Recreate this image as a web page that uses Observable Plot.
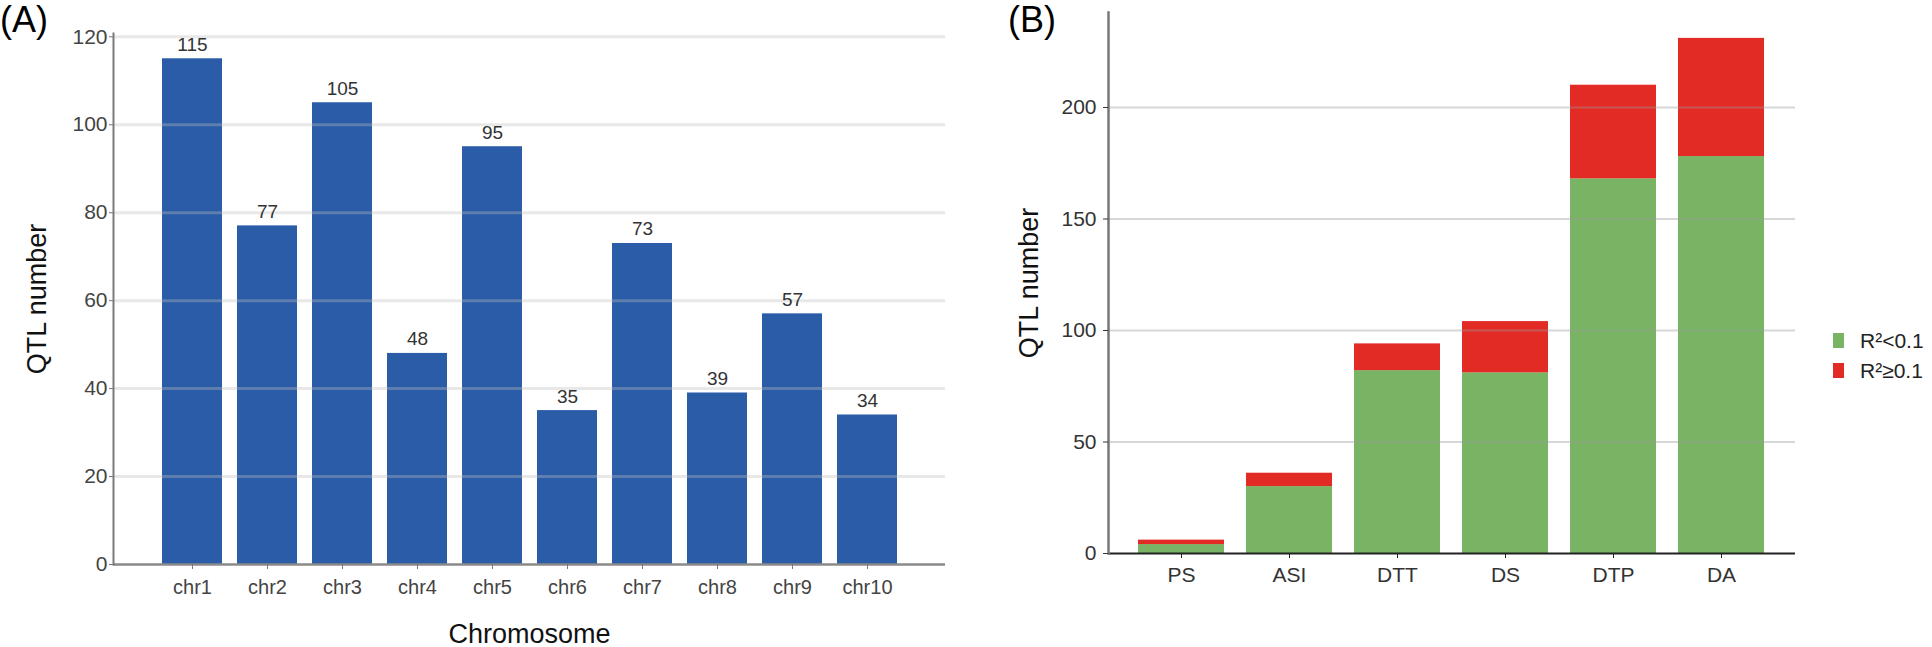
<!DOCTYPE html>
<html>
<head>
<meta charset="utf-8">
<script src="https://cdn.jsdelivr.net/npm/d3@7"></script>
<script src="https://cdn.jsdelivr.net/npm/@observablehq/plot@0.6"></script>
<style>
  body { margin: 0; background: #fff; }
  #wrap { position: relative; width: 1932px; height: 647px; overflow: hidden;
          font-family: "Liberation Sans", Arial, sans-serif; background: #fff; }
  .panel { position: absolute; top: 0; }
  .plabel { position: absolute; font-size: 36px; line-height: 1; color: #000; }
  .swatch { position: absolute; width: 11px; height: 15px; }
  .ltext { position: absolute; font-size: 21px; line-height: 21px; color: #222; white-space: nowrap; }
</style>
</head>
<body>
<div id="wrap">
  <div id="A" class="panel" style="left:0px"></div>
  <div id="B" class="panel" style="left:960px"></div>
  <div class="plabel" style="left:0px; top:2px">(A)</div>
  <div class="plabel" style="left:1008px; top:2px">(B)</div>
  <div id="legend"></div>
</div>
<script>
// ---- Panel A data ----
const chromosomes = ["chr1", "chr2", "chr3", "chr4", "chr5", "chr6", "chr7", "chr8", "chr9", "chr10"];
const qtlCounts = [115, 77, 105, 48, 95, 35, 73, 39, 57, 34];
const yTicksA = [0, 20, 40, 60, 80, 100, 120];

// ---- Panel B data ----
const traits = ["PS", "ASI", "DTT", "DS", "DTP", "DA"];
const lowR2 = [4, 30, 82, 81, 168, 178];     // R² < 0.1
const highR2 = [2, 6, 12, 23, 42, 53];       // R² ≥ 0.1
const r2Groups = ["R²<0.1", "R²≥0.1"];
const r2Colors = ["#78b464", "#e32b25"];
const yTicksB = [0, 50, 100, 150, 200];

const font = "Liberation Sans, Arial, sans-serif";

// ---- Panel A ----
const dataA = chromosomes.map((c, i) => ({chr: c, n: qtlCounts[i]}));
const plotA = Plot.plot({
  width: 960, height: 647,
  marginLeft: 113, marginRight: 15, marginTop: 33, marginBottom: 83,
  style: {fontFamily: font, fontSize: "20px", background: "transparent", overflow: "visible"},
  x: {domain: chromosomes, paddingInner: 0.205, paddingOuter: 0.61, label: null},
  y: {domain: [0, 120.75], label: null},
  marks: [
    Plot.barY(dataA, {x: "chr", y: "n", fill: "#2b5ca8"}),
    Plot.ruleY(yTicksA.filter(v => v > 0), {stroke: "#bdbdbd", strokeOpacity: 0.35, strokeWidth: 3}),
    Plot.ruleY([0], {stroke: "#8a8a8a", strokeWidth: 2.5}),
    Plot.frame({anchor: "left", stroke: "#7a7a7a", strokeWidth: 2}),
    Plot.text(dataA, {x: "chr", y: "n", text: d => String(d.n), lineAnchor: "bottom", dy: -8,
                      fill: "#333", fontSize: 19}),
    Plot.axisY({ticks: yTicksA, tickSize: 4, tickPadding: 2, stroke: "#777", fill: "#444",
                fontSize: 21, label: null, tickFormat: d => String(d)}),
    Plot.axisX({tickSize: 5, tickPadding: 10, stroke: "#777", fill: "#444", fontSize: 20, label: null}),
    Plot.text(["QTL number"], {frameAnchor: "left", text: d => d, rotate: -90, dx: -68,
                               textAnchor: "middle", lineAnchor: "bottom", fontSize: 27, fill: "#111"}),
    Plot.text(["Chromosome"], {frameAnchor: "bottom", text: d => d, dy: 78,
                               textAnchor: "middle", lineAnchor: "bottom", fontSize: 27, fill: "#111"})
  ]
});
document.getElementById("A").appendChild(plotA);

// ---- Panel B ----
const dataB = [];
traits.forEach((t, i) => {
  dataB.push({trait: t, group: r2Groups[0], n: lowR2[i]});
  dataB.push({trait: t, group: r2Groups[1], n: highR2[i]});
});
const plotB = Plot.plot({
  width: 972, height: 647,
  marginLeft: 148, marginRight: 137, marginTop: 12, marginBottom: 94,
  style: {fontFamily: font, fontSize: "21px", background: "transparent", overflow: "visible"},
  x: {domain: traits, paddingInner: 0.2, paddingOuter: 0.263, label: null},
  y: {domain: [0, 242.6], label: null},
  color: {domain: r2Groups, range: r2Colors},
  marks: [
    Plot.barY(dataB, {x: "trait", y: "n", fill: "group"}),
    Plot.ruleY(yTicksB.filter(v => v > 0), {stroke: "#9a9a9a", strokeOpacity: 0.4, strokeWidth: 2}),
    Plot.ruleY([0], {stroke: "#222", strokeWidth: 2}),
    Plot.frame({anchor: "left", stroke: "#777", strokeWidth: 2.5}),
    Plot.axisY({ticks: yTicksB, tickSize: 5, tickPadding: 7, stroke: "#333", fill: "#333",
                fontSize: 21, label: null, tickFormat: d => String(d)}),
    Plot.axisX({tickSize: 5, tickPadding: 9, stroke: "#222", fill: "#333", fontSize: 21, label: null}),
    Plot.text(["QTL number"], {frameAnchor: "left", text: d => d, rotate: -90, dx: -71,
                               textAnchor: "middle", lineAnchor: "bottom", fontSize: 27, fill: "#111"})
  ]
});
document.getElementById("B").appendChild(plotB);

// ---- Legend (HTML) ----
const legend = document.getElementById("legend");
r2Groups.forEach((g, i) => {
  const sw = document.createElement("div");
  sw.className = "swatch";
  sw.style.left = "1833px";
  sw.style.top = (333 + 30 * i) + "px";
  sw.style.background = r2Colors[i];
  legend.appendChild(sw);
  const tx = document.createElement("div");
  tx.className = "ltext";
  tx.style.left = "1860px";
  tx.style.top = (330 + 30 * i) + "px";
  tx.textContent = g;
  legend.appendChild(tx);
});
</script>
</body>
</html>
